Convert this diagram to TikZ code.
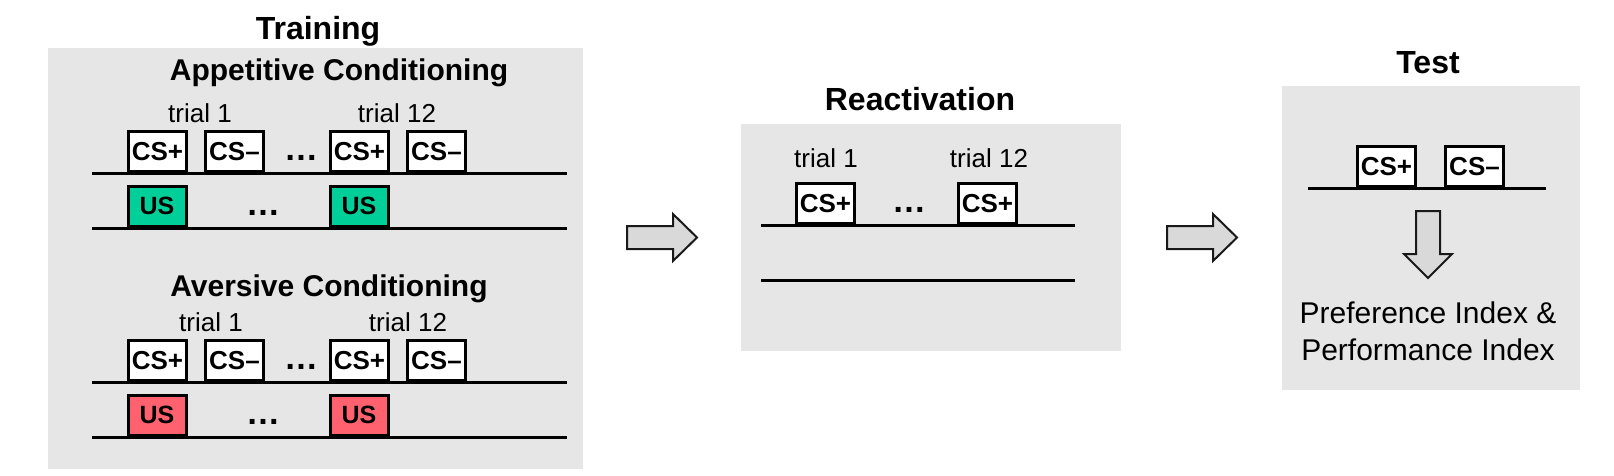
\documentclass[tikz,border=0pt]{standalone}
\usepackage{fontspec}
\setmainfont{Liberation Sans}
\definecolor{panelgray}{HTML}{E6E6E6}
\definecolor{arrowgray}{HTML}{D9D9D9}
\definecolor{usgreen}{HTML}{00CF99}
\definecolor{usred}{HTML}{FF616E}
\tikzset{
  phase/.style={fill=panelgray},
  phasetitle/.style={anchor=base, font=\fontsize{32}{36}\selectfont\bfseries},
  subtitle/.style={anchor=base, font=\fontsize{30}{34}\selectfont\bfseries},
  trial/.style={anchor=base, font=\fontsize{26}{30}\selectfont},
  readout/.style={anchor=base, font=\fontsize{30}{34}\selectfont},
  stim/.style={draw, line width=3pt, minimum width=58pt, minimum height=40.5pt,
    inner sep=0pt, anchor=south, font=\fontsize{26}{30}\selectfont\bfseries},
  csbox/.style={stim, fill=white},
  usbox/.style={stim, font=\fontsize{25}{30}\selectfont\bfseries},
  ellip/.style={font=\fontsize{34}{36}\selectfont\bfseries},
  timeline/.style={line width=3pt},
  blockarrow/.style={fill=arrowgray, draw=black!90, line width=2pt}
}
\begin{document}
\begin{tikzpicture}[x=1pt, y=-1pt, every node/.style={inner sep=0pt}]
    \useasboundingbox (0,0) rectangle (1614,475);
    % panels
    \fill[phase] (48,48) rectangle (583,469);
    \fill[phase] (741,124) rectangle (1121,351);
    \fill[phase] (1282,86) rectangle (1580,390);
    % training
    \node[phasetitle] (train) at (318,39) {Training};
    \foreach \row/\dy/\dx/\tx/\ty/\title/\col in
        {app/0/0/339/80/Appetitive Conditioning/usgreen,
         avr/209/11/329/296/Aversive Conditioning/usred} {
        \node[subtitle] (\row-title) at (\tx,\ty) {\title};
        \foreach \side/\lx in {l/92, r/567} {
            \coordinate (\row-cs-\side) at (\lx,173+\dy);
            \coordinate (\row-us-\side) at (\lx,228+\dy);
        }
        \draw[timeline] (\row-cs-l) -- (\row-cs-r);
        \draw[timeline] (\row-us-l) -- (\row-us-r);
        \node[trial] (\row-t1) at (200+\dx,122+\dy) {trial 1};
        \node[trial] (\row-t12) at (397+\dx,122+\dy) {trial 12};
        \node[csbox] (\row-csp1) at (157.5,173+\dy) {CS+};
        \node[csbox] (\row-csm1) at (234.5,173+\dy) {CS--};
        \node[ellip] (\row-csdots) at (301,158+\dy) {…};
        \node[csbox] (\row-csp12) at (359.5,173+\dy) {CS+};
        \node[csbox] (\row-csm12) at (436.5,173+\dy) {CS--};
        \node[usbox, fill=\col] (\row-us1) at (157,228+\dy) {US};
        \node[ellip] (\row-usdots) at (263,213+\dy) {…};
        \node[usbox, fill=\col] (\row-us12) at (359,228+\dy) {US};
    }
    % reactivation
    \node[phasetitle] (react) at (920,110) {Reactivation};
    \coordinate (re-cs-l) at (761,225);
    \coordinate (re-cs-r) at (1075,225);
    \coordinate (re-us-l) at (761,280);
    \coordinate (re-us-r) at (1075,280);
    \draw[timeline] (re-cs-l) -- (re-cs-r);
    \draw[timeline] (re-us-l) -- (re-us-r);
    \node[trial] (re-t1) at (826,167) {trial 1};
    \node[trial] (re-t12) at (989,167) {trial 12};
    \node[csbox] (re-csp1) at (825.5,225) {CS+};
    \node[ellip] (re-dots) at (909,210) {…};
    \node[csbox] (re-csp12) at (987.5,225) {CS+};
    % test
    \node[phasetitle] (test) at (1428,73) {Test};
    \coordinate (te-l) at (1308,188);
    \coordinate (te-r) at (1546,188);
    \draw[timeline] (te-l) -- (te-r);
    \node[csbox] (te-csp) at (1386.5,188) {CS+};
    \node[csbox] (te-csm) at (1474.5,188) {CS--};
    \node[readout] (pref) at (1428,323) {Preference Index \&};
    \node[readout] (perf) at (1428,360) {Performance Index};
    % block arrows
    \foreach \ax in {627,1167}
        \draw[blockarrow] (\ax,226) -- ++(46,0) -- ++(0,-12) -- ++(24,23.5)
            -- ++(-24,23.5) -- ++(0,-12) -- ++(-46,0) -- cycle;
    \draw[blockarrow] (1416,211) -- ++(24,0) -- ++(0,43) -- ++(12,0)
        -- ++(-24,24) -- ++(-24,-24) -- ++(12,0) -- cycle;
\end{tikzpicture}
\end{document}
